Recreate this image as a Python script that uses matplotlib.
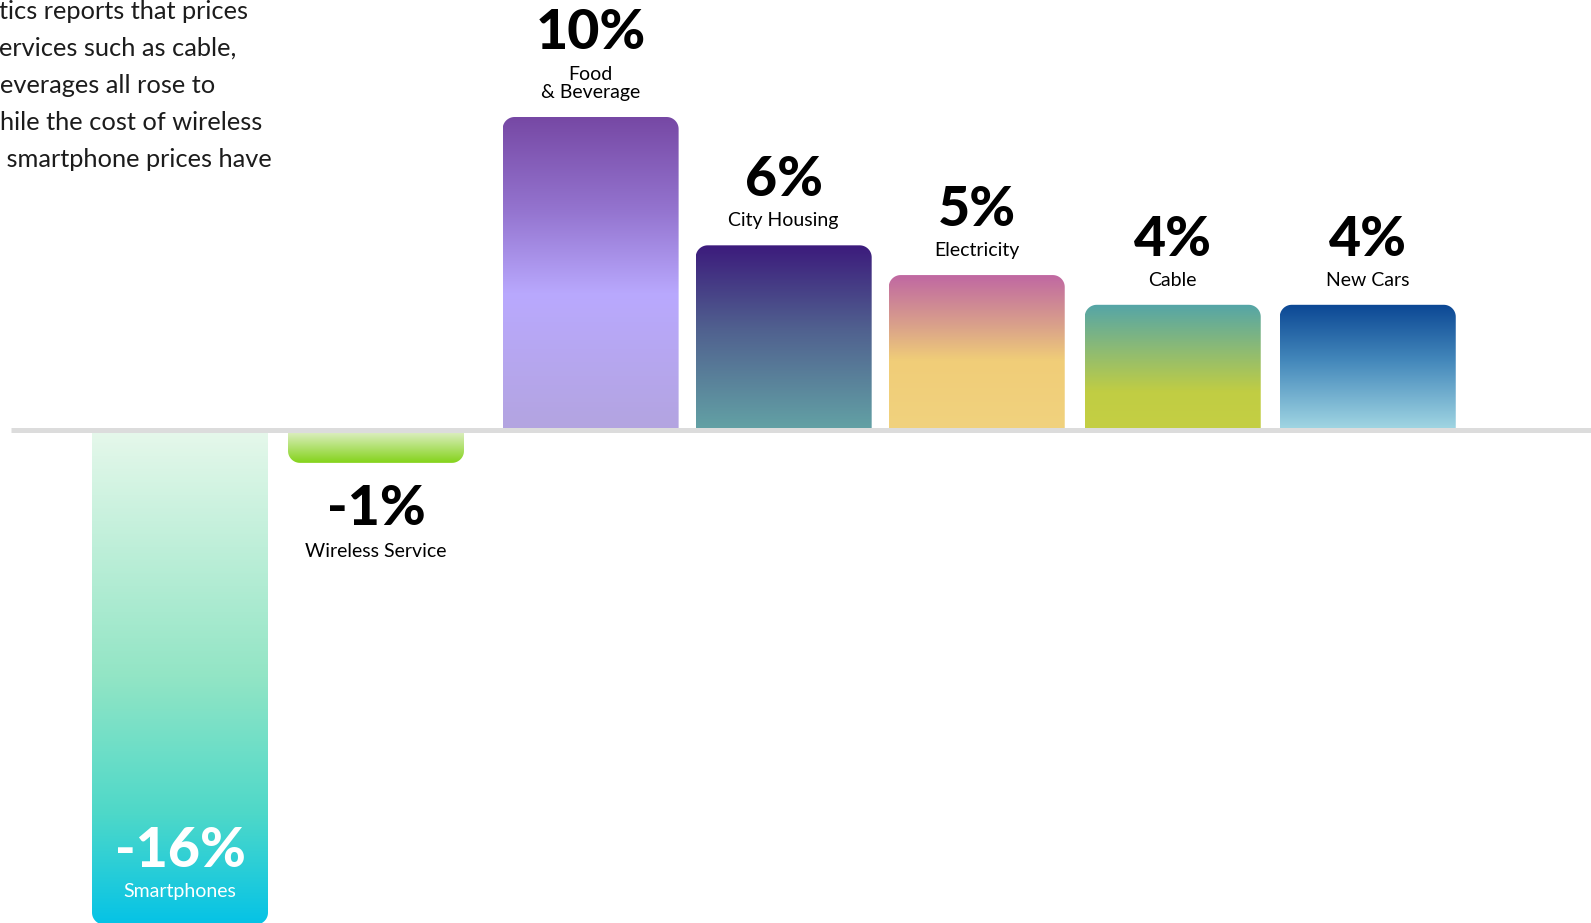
import numpy as np
import matplotlib
matplotlib.use("Agg")
import matplotlib.pyplot as plt
from matplotlib.colors import LinearSegmentedColormap
from matplotlib.path import Path
from matplotlib.patches import PathPatch
from matplotlib import font_manager

# data
categories = ["Smartphones", "Wireless Service", "Food\n& Beverage", "City Housing",
              "Electricity", "Cable", "New Cars"]
changes = [-15.8, -1.05, 10.0, 5.9, 4.95, 4.0, 4.0]
value_labels = ["-16%", "-1%", "10%", "6%", "5%", "4%", "4%"]

# gradient stops, from the visual top of each bar to its visual bottom
gradients = [
    [(0.0, "#e6f8eb"), (0.5, "#92e5c5"), (0.78, "#4dd8c9"), (1.0, "#05c3e6")],
    [(0.0, "#e2f0cc"), (1.0, "#84d31a")],
    [(0.0, "#7648a4"), (0.3, "#9474cf"), (0.57, "#b9a9fe"), (1.0, "#b3a4e0")],
    [(0.0, "#3c1b7c"), (0.45, "#50608f"), (1.0, "#63a2a5")],
    [(0.0, "#c068a2"), (0.33, "#daa28a"), (0.55, "#f0cd78"), (1.0, "#f1d27e")],
    [(0.0, "#54a5a8"), (0.4, "#93bd6e"), (0.7, "#c1cd43"), (1.0, "#c4cf44")],
    [(0.0, "#0b4794"), (0.45, "#4488bb"), (1.0, "#a2d7e3")],
]

intro_lines = [
    "tics reports that prices",
    "ervices such as cable,",
    "everages all rose to",
    "hile the cost of wireless",
    " smartphone prices have",
]

W, H, DPI = 1591, 923, 100
X_UNIT = 196.0     # px per slot
Y_UNIT = 31.3      # px per percent
BASE_PX = 430      # baseline, px from top
FIRST_PX = 180     # centre of first bar

names = {f.name for f in font_manager.fontManager.ttflist}
FONT = "Lato" if "Lato" in names else "DejaVu Sans"
plt.rcParams["font.family"] = [FONT, "DejaVu Sans"]


def rounded_bar(x0, x1, y0, y1, rx, ry):
    s = np.sign(y1 - y0)
    t = np.linspace(0, np.pi / 2, 16)
    cy = y1 - s * ry
    verts = [(x0, y0), (x0, cy)]
    for a in t:
        verts.append((x0 + rx - rx * np.cos(a), cy + s * ry * np.sin(a)))
    for a in t[::-1]:
        verts.append((x1 - rx + rx * np.cos(a), cy + s * ry * np.sin(a)))
    verts.append((x1, y0))
    verts.append((x0, y0))
    return Path(verts, closed=True)


fig = plt.figure(figsize=(W / DPI, H / DPI), dpi=DPI)
ax = fig.add_axes([0, 0, 1, 1])
ax.axis("off")

xlim = (-FIRST_PX / X_UNIT, (W - FIRST_PX) / X_UNIT)
ylim = (-(H - BASE_PX) / Y_UNIT, BASE_PX / Y_UNIT)

# slot positions (food bar sits after a slightly wider gap)
xpos = [0, 1, 2.095, 3.08, 4.065, 5.065, 6.06]
width = 176 / X_UNIT
rx, ry = 12 / X_UNIT, 12 / Y_UNIT

grad = np.linspace(0, 1, 256).reshape(-1, 1)

for i, (x, v) in enumerate(zip(xpos, changes)):
    x0, x1 = x - width / 2, x + width / 2
    path = rounded_bar(x0, x1, 0, v, rx, ry)
    patch = PathPatch(path, facecolor="none", edgecolor="none")
    ax.add_patch(patch)
    cmap = LinearSegmentedColormap.from_list(f"g{i}", gradients[i])
    im = ax.imshow(grad, cmap=cmap, aspect="auto", interpolation="bilinear",
                   extent=(x0, x1, min(0, v), max(0, v)), origin="upper", zorder=1)
    im.set_clip_path(patch)

    n_lines = categories[i].count("\n") + 1
    inside = v < -5
    if v > 0:
        lab_off = 19
        num_off = lab_off + 19 * (n_lines - 1) + 30
        color = "black"
    elif inside:
        lab_off = 28
        num_off = 58
        color = "white"
    else:
        num_off = -62
        lab_off = -94
        color = "black"

    ax.annotate(categories[i], (x, v), xytext=(0, lab_off), textcoords="offset pixels",
                ha="center", va="baseline", fontsize=14, color=color,
                linespacing=1.1, zorder=3, annotation_clip=False)
    ax.annotate(value_labels[i], (x, v), xytext=(0, num_off), textcoords="offset pixels",
                ha="center", va="baseline", fontsize=40, fontweight="black",
                color=color, zorder=3, annotation_clip=False)

# zero line
ax.plot([11 / X_UNIT + xlim[0], xlim[1]], [0, 0], color="#dcdcdc", lw=3.6,
        solid_capstyle="butt", zorder=2)

ax.set_xlim(*xlim)
ax.set_ylim(*ylim)

# intro paragraph, cut off at the left edge
intro_x = [-1, -1, 0, 0, 0]
for k, line in enumerate(intro_lines):
    fig.text(intro_x[k] / W, 1 - (19 + 37 * k) / H, line, ha="left", va="baseline",
             fontsize=18.3, color="#1c1c1c")

fig.savefig("out.png", dpi=DPI)
